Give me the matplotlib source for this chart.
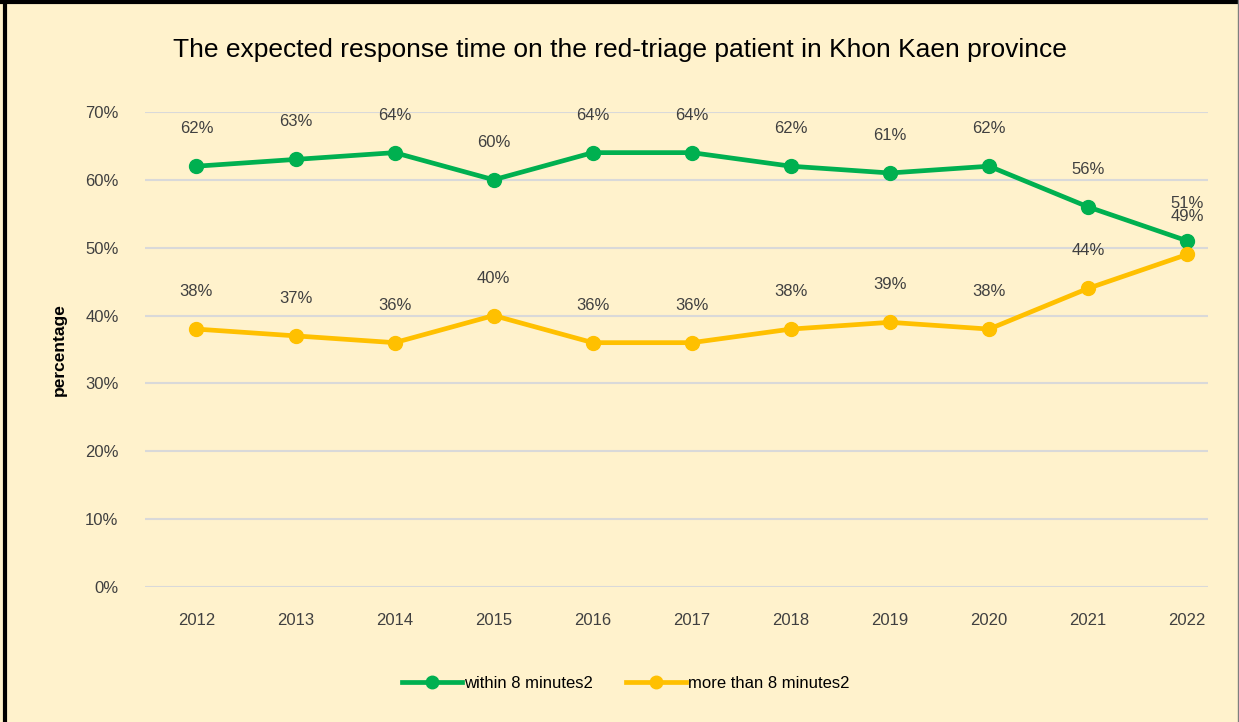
import matplotlib.pyplot as plt
from matplotlib.lines import Line2D

plt.rcParams['font.family'] = ['Liberation Sans', 'DejaVu Sans']

years = [2012, 2013, 2014, 2015, 2016, 2017, 2018, 2019, 2020, 2021, 2022]
within_8 = [62, 63, 64, 60, 64, 64, 62, 61, 62, 56, 51]
more_than_8 = [38, 37, 36, 40, 36, 36, 38, 39, 38, 44, 49]

bg = '#FFF2CC'
green = '#00B050'
orange = '#FFC000'

fig = plt.figure(figsize=(12.39, 7.22), dpi=100, facecolor=bg)
ax = fig.add_axes([0.117, 0.187, 0.858, 0.658], facecolor=bg)

ax.plot(years, within_8, color=green, lw=3.4, marker='o', ms=10,
        label='within 8 minutes2', zorder=3)
ax.plot(years, more_than_8, color=orange, lw=3.4, marker='o', ms=10,
        label='more than 8 minutes2', zorder=3)

# data labels above each point
for x, y in zip(years, within_8):
    ax.annotate(f'{y}%', (x, y), xytext=(0, 27), textcoords='offset points',
                ha='center', va='center', fontsize=12, color='#404040')
for x, y in zip(years, more_than_8):
    ax.annotate(f'{y}%', (x, y), xytext=(0, 27), textcoords='offset points',
                ha='center', va='center', fontsize=12, color='#404040')

ax.set_ylim(0, 70)
ax.set_xlim(2011.48, 2022.21)
ax.set_yticks(range(0, 71, 10))
ax.set_yticklabels([f'{v}%' for v in range(0, 71, 10)])
ax.set_xticks(years)
ax.set_xticklabels([str(y) for y in years])
ax.tick_params(length=0, labelsize=12, labelcolor='#404040')
ax.tick_params(axis='y', pad=19)
ax.tick_params(axis='x', pad=19)
ax.grid(axis='y', color='#D9D9D9', lw=1.5)
ax.set_axisbelow(True)
for s in ax.spines.values():
    s.set_visible(False)

ax.set_ylabel('percentage', fontsize=12.5, fontweight='bold', labelpad=13)

fig.text(0.5, 0.931, 'The expected response time on the red-triage patient in Khon Kaen province',
         ha='center', va='center', fontsize=19)

fig.legend(loc='center', bbox_to_anchor=(0.505, 0.054), ncol=2, frameon=False,
           fontsize=12, handlelength=3.6, handletextpad=0.1, columnspacing=2,
           markerscale=0.9)

# frame around the picture: black on top and left, thin grey on right
fig.add_artist(Line2D([0.004, 0.004], [0, 1], transform=fig.transFigure, color='black', lw=3))
fig.add_artist(Line2D([0, 1], [0.997, 0.997], transform=fig.transFigure, color='black', lw=3))
fig.add_artist(Line2D([0.9992, 0.9992], [0, 1], transform=fig.transFigure, color='#7f7f7f', lw=1))

fig.savefig('out.png', dpi=100, facecolor=bg)
